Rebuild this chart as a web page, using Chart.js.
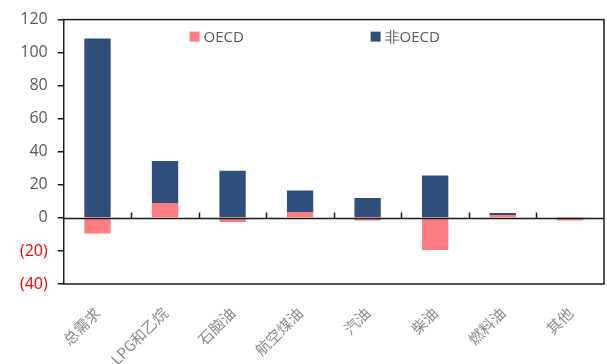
<!DOCTYPE html>
<html><head><meta charset="utf-8">
<script src="https://cdn.jsdelivr.net/npm/chart.js@4/dist/chart.umd.min.js"></script>
<style>html,body{margin:0;padding:0;background:#fff}#wrap{width:607px;height:364px}</style>
</head><body><div id="wrap"><canvas id="c" width="607" height="364"></canvas></div>
<script>
const categories = ['总需求','LPG和乙烷','石脑油','航空煤油','汽油','柴油','燃料油','其他'];
const oecd = [-9.5, 9, -2.5, 3.6, -1.5, -19.5, 1.8, -1.5];
const nonOecd = [108.5, 25.5, 28.6, 13, 12, 25.6, 1.2, 0.6];
const seriesNames = ['OECD','非OECD'];
const yTicks = [-40,-20,0,20,40,60,80,100,120];
const colors = ['#FF7C80','#2F4E7C'];

const framePlugin = {
  id:'frame',
  afterDatasetsDraw(chart){
    const {ctx, chartArea:a, scales:{x,y}} = chart;
    ctx.save();
    ctx.strokeStyle='#1a1a1a'; ctx.lineWidth=1.5;
    ctx.strokeRect(a.left, a.top, a.width, a.height);
    const y0 = Math.round(y.getPixelForValue(0))+0.5;
    ctx.beginPath(); ctx.moveTo(a.left,y0); ctx.lineTo(a.right,y0); ctx.stroke();
    for(let i=1;i<categories.length;i++){
      const xb=Math.round((x.getPixelForValue(i-1)+x.getPixelForValue(i))/2)+0.5;
      ctx.beginPath(); ctx.moveTo(xb,y0); ctx.lineTo(xb,y0-6); ctx.stroke();
    }
    ctx.restore();
  },
  afterDraw(chart){
    const {ctx, chartArea:a} = chart;
    const pos=[0.233,0.568];
    ctx.save();
    ctx.font='15px "Open Sans"'; ctx.textBaseline='middle';
    seriesNames.forEach((n,i)=>{
      const bx=a.left+a.width*pos[i], by=a.top+17;
      ctx.fillStyle=colors[i]; ctx.fillRect(bx,by-5,10,10);
      ctx.fillStyle='#595959'; ctx.fillText(n,bx+14,by+1);
    });
    ctx.restore();
  }
};

new Chart(document.getElementById('c'),{
  type:'bar',
  data:{labels:categories,datasets:[
    {label:seriesNames[0],data:oecd,backgroundColor:colors[0],barPercentage:0.39,categoryPercentage:1},
    {label:seriesNames[1],data:nonOecd,backgroundColor:colors[1],barPercentage:0.39,categoryPercentage:1}
  ]},
  options:{
    responsive:false,animation:false,devicePixelRatio:1,
    layout:{padding:{left:10,right:3,top:0,bottom:0}},
    plugins:{legend:{display:false},tooltip:{enabled:false}},
    scales:{
      x:{stacked:true,grid:{display:false},border:{display:false},
        afterFit(s){s.height=80;},
        ticks:{minRotation:45,maxRotation:45,color:'#8a8a8a',padding:12,font:{family:'"Noto Sans CJK SC"',size:15}}},
      y:{stacked:true,min:-40,max:120,
        afterBuildTicks(s){s.ticks=yTicks.map(v=>({value:v}));},
        grid:{drawOnChartArea:false,drawTicks:true,tickLength:6,color:'#1a1a1a',lineWidth:1.5},
        border:{display:false},
        ticks:{padding:10,font:{family:'"Open Sans"',size:16},
          color:c=>c.tick.value<0?'#FF0000':'#595959',
          callback:v=>v<0?'('+Math.abs(v)+')':String(v)}}
    }
  },
  plugins:[framePlugin]
});
</script></body></html>
